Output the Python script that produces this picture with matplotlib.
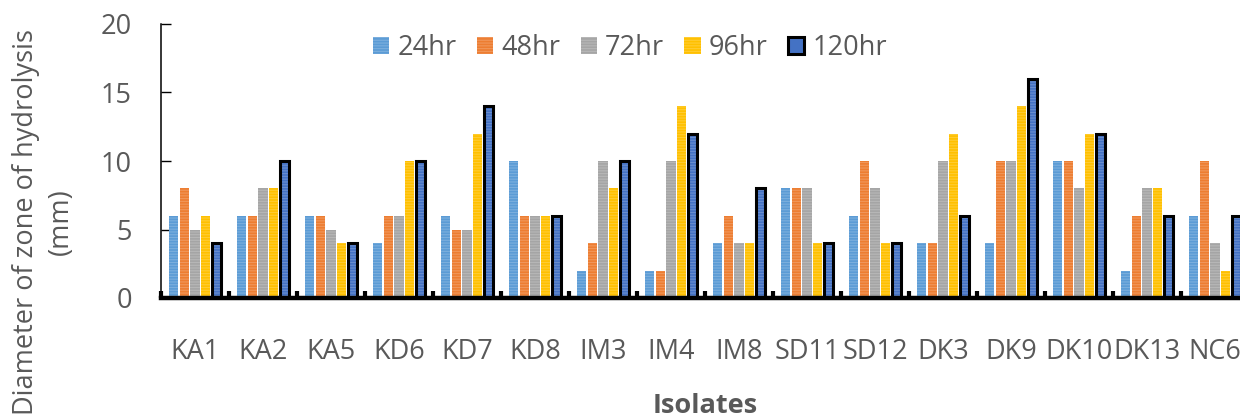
import matplotlib
matplotlib.use("Agg")
import matplotlib.pyplot as plt
import numpy as np

isolates = ["KA1", "KA2", "KA5", "KD6", "KD7", "KD8", "IM3", "IM4", "IM8",
            "SD11", "SD12", "DK3", "DK9", "DK10", "DK13", "NC6"]
series_names = ["24hr", "48hr", "72hr", "96hr", "120hr"]
v24 = [6, 6, 6, 4, 6, 10, 2, 2, 4, 8, 6, 4, 4, 10, 2, 6]
v48 = [8, 6, 6, 6, 5, 6, 4, 2, 6, 8, 10, 4, 10, 10, 6, 10]
v72 = [5, 8, 5, 6, 5, 6, 10, 10, 4, 8, 8, 10, 10, 8, 8, 4]
v96 = [6, 8, 4, 10, 12, 6, 8, 14, 4, 4, 4, 12, 14, 12, 8, 2]
v120 = [4, 10, 4, 10, 14, 6, 10, 12, 8, 4, 4, 6, 16, 12, 6, 6]
colors = ["#5B9BD5", "#ED7D31", "#A5A5A5", "#FFC000", "#4472C4"]

plt.rcParams['font.family'] = ['Open Sans', 'DejaVu Sans']
plt.rcParams['hatch.color'] = (1, 1, 1, 0.2)
plt.rcParams['hatch.linewidth'] = 0.8

fig = plt.figure(figsize=(12.4, 4.17), dpi=100)
ax = fig.add_axes([161/1240, (417-298)/417, (1249-161)/1240, (298-24)/417])

FS = 19.5
x = np.arange(len(isolates))
step = 0.156
width = 0.138
all_vals = [v24, v48, v72, v96, v120]
handles = []
for i, (name, vals, c) in enumerate(zip(series_names, all_vals, colors)):
    pos = x + (i - 2) * step
    b = ax.bar(pos, vals, width, color=c, hatch='------', zorder=2)
    if name == "120hr":
        ax.bar(pos, vals, width, facecolor='none', edgecolor='black',
               linewidth=2.2, zorder=3)
        h = ax.bar([np.nan], [np.nan], color=c, edgecolor='black', linewidth=2.2)
        handles.append(h)
    else:
        handles.append(b)

ax.set_xlim(-0.5, len(isolates) - 0.5)
ax.set_ylim(0, 20)
ax.set_yticks([0, 5, 10, 15, 20])
ax.set_xticks(x)
ax.set_xticklabels(isolates)
ax.set_xticks(np.arange(-0.5, len(isolates), 1.0), minor=True)

txtc = "#595959"
ax.tick_params(axis='y', direction='in', length=7, width=1.0, pad=21,
               labelsize=FS, labelcolor=txtc, color='black')
ax.tick_params(axis='x', which='major', length=0, pad=29,
               labelsize=FS, labelcolor=txtc)
ax.tick_params(axis='x', which='minor', direction='in', length=5, width=3,
               color='black')

for s in ['top', 'right']:
    ax.spines[s].set_visible(False)
ax.spines['left'].set_linewidth(1.1)
ax.spines['bottom'].set_linewidth(3.2)
ax.spines['bottom'].set_zorder(4)

ax.set_xlabel("Isolates", fontsize=FS, color=txtc, fontweight='bold',
              labelpad=19)
fig.text(0.035, 0.468, "Diameter of zone of hydrolysis\n(mm)", rotation=90,
         ha='center', va='center', multialignment='center', fontsize=FS,
         color=txtc, linespacing=1.3)

leg = ax.legend(handles=handles, labels=series_names, loc='center',
                bbox_to_anchor=(630/1240, (417-48)/417),
                bbox_transform=fig.transFigure, ncol=5, frameon=False,
                fontsize=FS, handlelength=0.6, handleheight=0.6,
                handletextpad=0.3, columnspacing=0.75, labelcolor=txtc,
                borderaxespad=0, borderpad=0)

fig.savefig("out.png", dpi=100)
